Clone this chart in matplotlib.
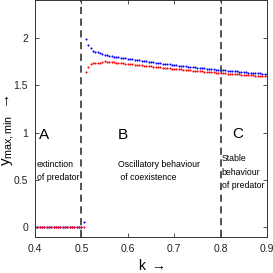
import matplotlib
matplotlib.use('Agg')
import matplotlib.pyplot as plt

plt.rcParams['font.family'] = ['Liberation Sans Narrow', 'Liberation Sans', 'DejaVu Sans']
plt.rcParams['mathtext.fontset'] = 'custom'
plt.rcParams['mathtext.rm'] = 'Liberation Sans'
plt.rcParams['mathtext.it'] = 'Liberation Sans'

# region A: predator extinct, both extrema at zero
k_a = [0.400, 0.405, 0.410, 0.415, 0.420, 0.425, 0.430, 0.435, 0.440, 0.445,
       0.450, 0.455, 0.460, 0.465, 0.470, 0.475, 0.480, 0.485, 0.490, 0.495,
       0.500, 0.505]
ymax_a = [0.0] * 21 + [0.06]
ymin_a = [0.0] * 22

# regions B and C
k_b = [i / 1000 for i in range(510, 905, 5)]
ymax_b = [1.990, 1.930, 1.890, 1.865, 1.855, 1.848, 1.840, 1.830, 1.822, 1.816,
          1.811, 1.807, 1.803, 1.799, 1.795, 1.791, 1.787, 1.784, 1.780, 1.776,
          1.773, 1.769, 1.766, 1.762, 1.759, 1.755, 1.752, 1.748, 1.745, 1.742,
          1.738, 1.735, 1.732, 1.729, 1.726, 1.723, 1.720, 1.717, 1.714, 1.711,
          1.708, 1.705, 1.702, 1.699, 1.697, 1.694, 1.691, 1.689, 1.686, 1.683,
          1.681, 1.678, 1.676, 1.673, 1.671, 1.668, 1.666, 1.664, 1.661, 1.659,
          1.657, 1.655, 1.652, 1.650, 1.648, 1.646, 1.644, 1.642, 1.640, 1.637,
          1.635, 1.633, 1.631, 1.629, 1.627, 1.625, 1.623, 1.621, 1.619]
ymin_b = [1.640, 1.690, 1.725, 1.733, 1.735, 1.736, 1.738, 1.742, 1.752, 1.750,
          1.748, 1.745, 1.743, 1.740, 1.738, 1.735, 1.732, 1.730, 1.727, 1.724,
          1.721, 1.719, 1.716, 1.713, 1.710, 1.708, 1.705, 1.702, 1.700, 1.697,
          1.694, 1.692, 1.689, 1.687, 1.684, 1.682, 1.679, 1.677, 1.674, 1.672,
          1.669, 1.667, 1.664, 1.662, 1.660, 1.657, 1.655, 1.653, 1.650, 1.648,
          1.646, 1.644, 1.642, 1.640, 1.638, 1.636, 1.634, 1.632, 1.630, 1.628,
          1.626, 1.624, 1.622, 1.620, 1.618, 1.617, 1.615, 1.613, 1.611, 1.609,
          1.607, 1.606, 1.604, 1.602, 1.600, 1.598, 1.597, 1.595, 1.593]

boundaries = [0.5, 0.8]

fig = plt.figure(figsize=(2.73, 2.73), dpi=100)
ax = fig.add_axes([0.128, 0.132, 0.850, 0.868])

ax.plot(k_b, ymax_b, 'o', color='blue', ms=1.5, mew=0)
ax.plot(k_b, ymin_b, 'o', color='red', ms=1.5, mew=0)
ax.plot(k_a, ymax_a, 'o', color='blue', ms=1.5, mew=0)
ax.plot(k_a, ymin_a, 'o', color='red', ms=1.5, mew=0)

for b in boundaries:
    ax.axvline(b, color='#444444', lw=1.3, ls=(0, (4, 2.5)))

ax.set_xlim(0.4, 0.9)
ax.set_ylim(-0.1, 2.4)
ax.set_xticks([0.4, 0.5, 0.6, 0.7, 0.8, 0.9])
ax.set_xticklabels(['0.4', '0.5', '0.6', '0.7', '0.8', '0.9'])
ax.set_yticks([0, 0.5, 1, 1.5, 2])
ax.set_yticklabels(['0', '0.5', '1', '1.5', '2'])
ax.tick_params(direction='in', top=True, right=True, length=3, width=0.6,
               labelsize=7.5, colors='#333333', labelcolor='#222222', pad=5)
for s in ax.spines.values():
    s.set_linewidth(0.7)
    s.set_color('#333333')

ax.set_xlabel('k $\\rightarrow$', fontsize=10)
ax.xaxis.set_label_coords(0.5, -0.09)
ax.set_ylabel('y$_{\\mathregular{max,min}}$ $\\rightarrow$', fontsize=11)
ax.yaxis.set_label_coords(-0.08, 0.45)

ax.text(0.419, 0.98, 'A', fontsize=11, ha='center', va='center')
ax.text(0.589, 0.98, 'B', fontsize=11, ha='center', va='center')
ax.text(0.837, 0.99, 'C', fontsize=11, ha='center', va='center')
ax.text(0.4045, 0.60, 'extinction\nof predator', fontsize=6.3,
        ha='left', va='center', linespacing=1.6)
ax.text(0.5785, 0.60, 'Oscillatory behaviour\n of coexistence', fontsize=6.3,
        ha='left', va='center', linespacing=1.6)
ax.text(0.802, 0.585, 'Stable\nbehaviour\nof predator', fontsize=6.3,
        ha='left', va='center', linespacing=1.6)

fig.savefig('out.png', dpi=100)
